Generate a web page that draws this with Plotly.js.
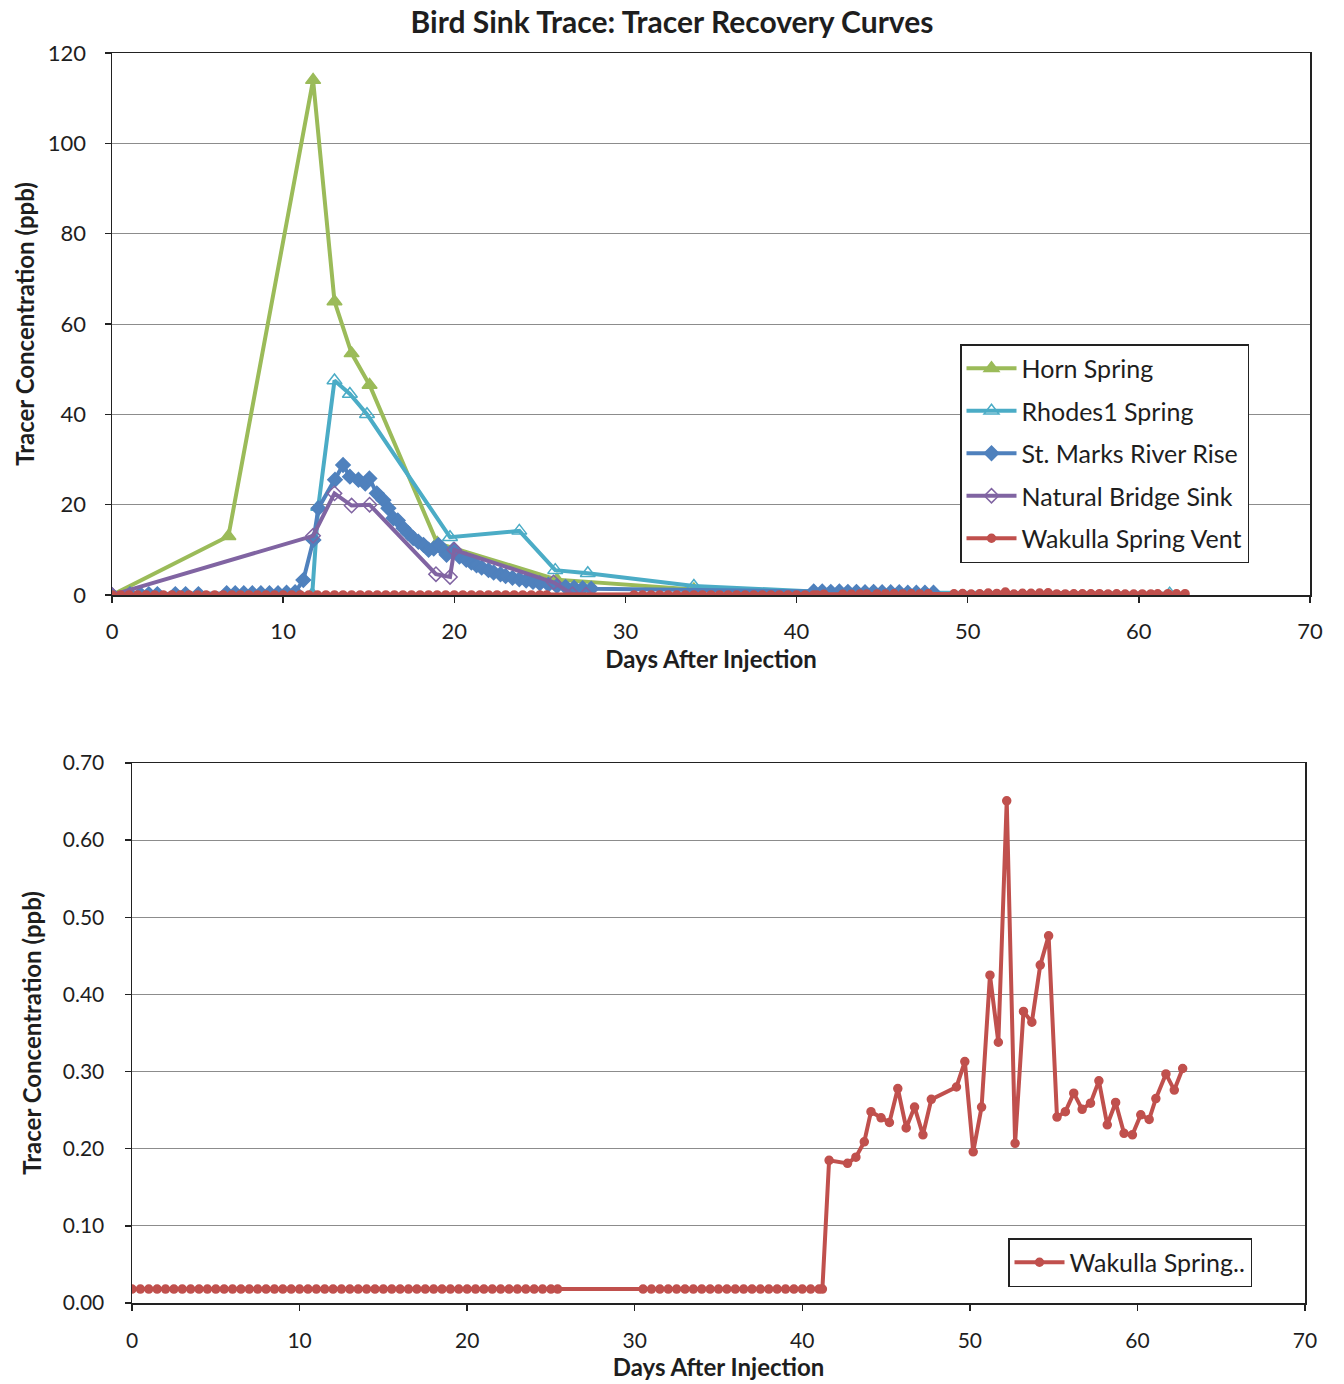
<!DOCTYPE html>
<html>
<head>
<meta charset="utf-8">
<script src="https://cdn.plot.ly/plotly-3.0.1.min.js"></script>
<style>
html,body{margin:0;padding:0;background:#fff;}
#chart{width:1344px;height:1384px;}
</style>
</head>
<body>
<div id="chart"></div>
<script>
// ---- Data ----
const hornDays = [0, 6.8, 11.75, 13.0, 14.0, 15.05, 19.0, 26.0, 34.0, 48.0];
const hornVals = [0, 13, 114, 65, 53.5, 46.5, 11.5, 3.4, 1.2, 0.1];

const rhodesDays = [0, 11.7, 12.05, 13.0, 13.9, 14.9, 19.75, 23.8, 25.9, 27.8, 34.0, 41.0, 48.0, 61.8];
const rhodesVals = [0, 0.2, 19.5, 47.5, 44.5, 40.0, 12.8, 14.2, 5.5, 4.8, 2.0, 0.8, 0.5, 0.3];

const stMarksDays = [0, 1.05, 1.65, 2.15, 2.65, 3.7, 4.3, 5.05, 6.7, 7.2, 7.7, 8.2, 8.7, 9.2, 9.7, 10.2, 10.7,
  11.18, 11.77, 12.06, 13.03, 13.5, 13.9, 14.4, 14.8, 15.04, 15.47, 15.86, 16.15, 16.44, 16.7, 17.03, 17.3,
  17.6, 17.9, 18.2, 18.5, 18.8, 19.07, 19.35, 19.55, 19.95, 20.3, 20.7, 21.0, 21.3, 21.6, 22.0, 22.3, 22.7,
  23.0, 23.4, 23.8, 24.2, 24.6, 25.0, 25.5, 26.0, 26.5, 27.0, 27.5, 28.0,
  41.0, 41.5, 42.0, 42.5, 43.0, 43.5, 44.0, 44.5, 45.0, 45.5, 46.0, 46.5, 47.0, 47.5, 48.0];
const stMarksVals = [0, 0.2, 0.2, 0.2, 0.2, 0.2, 0.2, 0.2, 0.4, 0.4, 0.4, 0.4, 0.4, 0.4, 0.4, 0.5, 0.6,
  3.3, 12.2, 19.2, 25.5, 28.8, 26.2, 25.5, 24.7, 25.8, 22.5, 21.0, 19.2, 17.0, 16.5, 14.8, 13.7,
  12.6, 11.8, 11.1, 10.0, 10.3, 11.1, 10.0, 8.9, 10.0, 8.5, 7.8, 7.2, 6.6, 6.1, 5.5, 5.0, 4.6,
  4.2, 3.8, 3.5, 3.2, 2.9, 2.6, 2.3, 2.0, 1.8, 1.6, 1.5, 1.4,
  0.8, 0.8, 0.7, 0.8, 0.7, 0.7, 0.6, 0.7, 0.6, 0.6, 0.6, 0.5, 0.5, 0.5, 0.5];

const bridgeDays = [0, 11.75, 13.0, 14.0, 15.05, 18.93, 19.75, 20.0, 25.8, 26.9, 27.7];
const bridgeVals = [0, 13.1, 22.5, 19.8, 20.0, 4.6, 4.0, 10.0, 2.8, 0.2, 0.1];

const wakullaDays = [0, 0.5, 1, 1.5, 2, 2.5, 3, 3.5, 4, 4.5, 5, 5.5, 6, 6.5, 7, 7.5, 8, 8.5, 9, 9.5,
  10, 10.5, 11, 11.5, 12, 12.5, 13, 13.5, 14, 14.5, 15, 15.5, 16, 16.5, 17, 17.5, 18, 18.5, 19, 19.5,
  20, 20.5, 21, 21.5, 22, 22.5, 23, 23.5, 24, 24.5, 25, 25.4,
  30.5, 31, 31.5, 32, 32.5, 33, 33.5, 34, 34.5, 35, 35.5, 36, 36.5, 37, 37.5, 38, 38.5, 39, 39.5,
  40, 40.5, 41, 41.2,
  41.6, 42.7, 43.2, 43.7, 44.1, 44.7, 45.2, 45.7, 46.2, 46.7, 47.2, 47.7, 49.2, 49.7, 50.2, 50.7,
  51.2, 51.7, 52.2, 52.7, 53.2, 53.7, 54.2, 54.7, 55.2, 55.7, 56.2, 56.7, 57.2, 57.7, 58.2, 58.7,
  59.2, 59.7, 60.2, 60.7, 61.1, 61.7, 62.2, 62.7];
const wakullaVals = [0.018, 0.018, 0.018, 0.018, 0.018, 0.018, 0.018, 0.018, 0.018, 0.018, 0.018, 0.018, 0.018, 0.018, 0.018, 0.018, 0.018, 0.018, 0.018, 0.018,
  0.018, 0.018, 0.018, 0.018, 0.018, 0.018, 0.018, 0.018, 0.018, 0.018, 0.018, 0.018, 0.018, 0.018, 0.018, 0.018, 0.018, 0.018, 0.018, 0.018,
  0.018, 0.018, 0.018, 0.018, 0.018, 0.018, 0.018, 0.018, 0.018, 0.018, 0.018, 0.018,
  0.018, 0.018, 0.018, 0.018, 0.018, 0.018, 0.018, 0.018, 0.018, 0.018, 0.018, 0.018, 0.018, 0.018, 0.018, 0.018, 0.018, 0.018, 0.018,
  0.018, 0.018, 0.018, 0.018,
  0.185, 0.181, 0.189, 0.209, 0.248, 0.240, 0.234, 0.278, 0.227, 0.254, 0.218, 0.264, 0.280, 0.313, 0.196, 0.254,
  0.425, 0.338, 0.651, 0.207, 0.378, 0.364, 0.438, 0.476, 0.241, 0.248, 0.272, 0.251, 0.259, 0.288, 0.231, 0.260,
  0.220, 0.218, 0.244, 0.238, 0.265, 0.297, 0.276, 0.304];

const seriesNames = ["Horn Spring", "Rhodes1 Spring", "St. Marks River Rise", "Natural Bridge Sink", "Wakulla Spring Vent"];
const bottomLegendName = "Wakulla Spring..";
const chartTitle = "Bird Sink Trace: Tracer Recovery Curves";
const xTitle = "Days After Injection";
const yTitle = "Tracer Concentration (ppb)";

// ---- Styling ----
const FONT = "Lato, 'Open Sans', 'Liberation Sans', sans-serif";
const C = {horn: "#9bbb59", rhodes: "#4bacc6", stm: "#4f81bd", nb: "#8064a2", wak: "#c0504d"};
const TXT = "#1e1e1e";

function line(name, x, y, color, symbol, size, group, extra) {
  return Object.assign({
    type: "scatter", mode: "lines+markers", name: name, x: x, y: y,
    legendgroup: group,
    line: {color: color, width: 4},
    marker: {symbol: symbol, size: size, color: color, line: {color: color, width: 1.5}},
    xaxis: "x", yaxis: "y", legend: "legend"
  }, extra || {});
}

const traces = [
  line(seriesNames[0], hornDays, hornVals, C.horn, "triangle-up", 13, "g1"),
  line(seriesNames[1], rhodesDays, rhodesVals, C.rhodes, "triangle-up-open", 13, "g2"),
  line(seriesNames[2], stMarksDays, stMarksVals, C.stm, "diamond", 11, "g3"),
  line(seriesNames[3], bridgeDays, bridgeVals, C.nb, "diamond-open", 11, "g4"),
  line(seriesNames[4], wakullaDays, wakullaVals, C.wak, "circle", 8, "g5"),
  line(bottomLegendName, wakullaDays, wakullaVals, C.wak, "circle", 8, "b1",
       {xaxis: "x2", yaxis: "y2", legend: "legend2"})
];

function axisBase(tickSize) {
  return {
    showline: true, linecolor: "#222", linewidth: 1.5, mirror: true,
    ticks: "outside", tickcolor: "#222", ticklen: 6, tickwidth: 1.5,
    tickfont: {family: FONT, size: tickSize, color: TXT},
    zeroline: false, fixedrange: true
  };
}
const axTitleFont = {family: FONT, size: 24, weight: 700, color: TXT};

const layout = {
  width: 1344, height: 1384,
  margin: {l: 0, r: 0, t: 0, b: 0},
  paper_bgcolor: "#fff", plot_bgcolor: "#fff",
  font: {family: FONT, color: TXT},
  title: {text: chartTitle, font: {family: FONT, size: 30, weight: 700, color: TXT},
          x: 0.5, xref: "paper", xanchor: "center", y: 1 - 22/1384, yanchor: "middle"},
  xaxis: Object.assign(axisBase(22), {
    domain: [112/1344, 1310/1344], range: [0, 70], dtick: 10, tick0: 0,
    showgrid: false, anchor: "y", ticklabelstandoff: 10,
    title: {text: xTitle, font: axTitleFont, standoff: 8}
  }),
  yaxis: Object.assign(axisBase(22), {
    domain: [(1384-595)/1384, (1384-53)/1384], range: [0, 120], dtick: 20, tick0: 0,
    showgrid: true, gridcolor: "#8c8c8c", gridwidth: 1, anchor: "x", ticklabelstandoff: 14,
    title: {text: yTitle, font: axTitleFont, standoff: 6}
  }),
  xaxis2: Object.assign(axisBase(21), {
    domain: [132/1344, 1305/1344], range: [0, 70], dtick: 10, tick0: 0,
    showgrid: false, anchor: "y2", ticklabelstandoff: 12,
    title: {text: xTitle, font: axTitleFont, standoff: 8}
  }),
  yaxis2: Object.assign(axisBase(21), {
    domain: [(1384-1303)/1384, (1384-763)/1384], range: [0, 0.70], dtick: 0.10, tick0: 0,
    tickformat: ".2f",
    showgrid: true, gridcolor: "#8c8c8c", gridwidth: 1, anchor: "x2", ticklabelstandoff: 16,
    title: {text: yTitle, font: axTitleFont, standoff: 14}
  }),
  legend: {
    x: 960/1344, y: (1384-344)/1384, xanchor: "left", yanchor: "top",
    bgcolor: "#fff", bordercolor: "#222", borderwidth: 1.5,
    font: {family: FONT, size: 25, color: TXT},
    traceorder: "grouped", tracegroupgap: 7, itemwidth: 50
  },
  legend2: {
    x: 1008/1344, y: (1384-1238)/1384, xanchor: "left", yanchor: "top",
    bgcolor: "#fff", bordercolor: "#222", borderwidth: 1.5,
    font: {family: FONT, size: 25, color: TXT}, itemwidth: 50
  },
  showlegend: true
};

Plotly.newPlot("chart", traces, layout, {displayModeBar: false, staticPlot: true});
</script>
</body>
</html>
